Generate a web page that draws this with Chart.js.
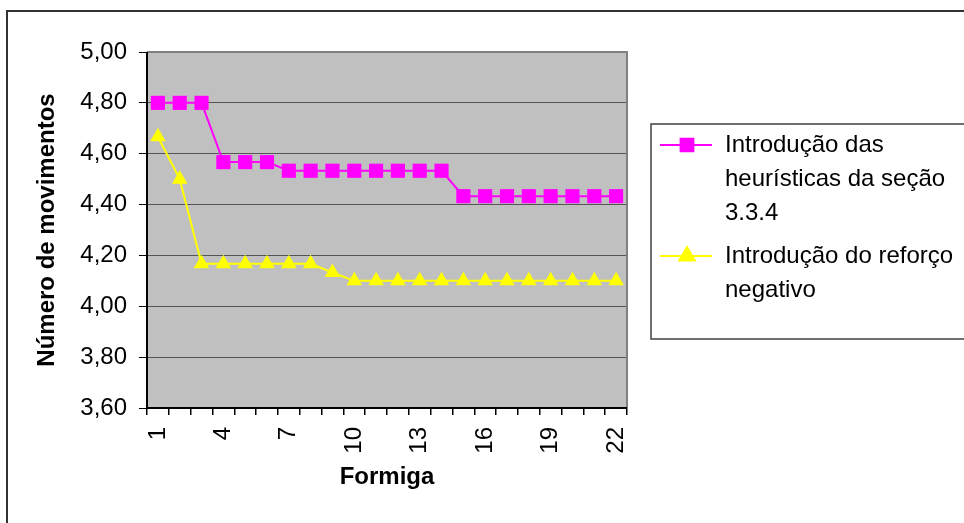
<!DOCTYPE html>
<html lang="pt">
<head>
<meta charset="utf-8">
<title>Número de movimentos por formiga</title>
<script src="https://cdn.jsdelivr.net/npm/chart.js@4/dist/chart.umd.min.js"></script>
<style>
  html, body { margin: 0; padding: 0; background: #fff; }
  #wrap { width: 964px; height: 523px; }
</style>
</head>
<body>
<div id="wrap"><canvas id="movChart" width="964" height="523"></canvas></div>
<script>
// formigas 1..22
const formigas = ['1', '2', '3', '4', '5', '6', '7', '8', '9', '10', '11',
  '12', '13', '14', '15', '16', '17', '18', '19', '20', '21', '22'];

const heuristicas = [4.80, 4.80, 4.80, 4.567, 4.567, 4.567, 4.533, 4.533, 4.533, 4.533, 4.533,
  4.533, 4.533, 4.533, 4.433, 4.433, 4.433, 4.433, 4.433, 4.433, 4.433, 4.433];

const reforcoNegativo = [4.667, 4.50, 4.167, 4.167, 4.167, 4.167, 4.167, 4.167, 4.133, 4.10, 4.10,
  4.10, 4.10, 4.10, 4.10, 4.10, 4.10, 4.10, 4.10, 4.10, 4.10, 4.10];

const yMin = 3.6, yMax = 5.0, yStep = 0.2;

const serieNomes = [
  ['Introdução das', 'heurísticas da seção', '3.3.4'],
  ['Introdução do reforço', 'negativo']
];

const FONTE = '"Liberation Sans", Arial, sans-serif';
Chart.defaults.font.family = FONTE;
Chart.defaults.font.size = 25;
Chart.defaults.color = '#000';

// fundo cinza da área do gráfico + moldura externa + legenda em caixa
const molduraPlugin = {
  id: 'moldura',
  beforeDraw(chart) {
    const { ctx, chartArea: a } = chart;
    ctx.save();
    ctx.fillStyle = '#fff';
    ctx.fillRect(0, 0, chart.width, chart.height);
    ctx.fillStyle = '#C0C0C0';
    ctx.fillRect(a.left, a.top, a.right - a.left, a.bottom - a.top);
    ctx.restore();
  },
  afterDatasetsDraw(chart) {
    const { ctx, chartArea: a } = chart;
    ctx.save();
    // borda cinza da área de plotagem
    ctx.strokeStyle = '#808080';
    ctx.lineWidth = 2;
    ctx.beginPath();
    ctx.moveTo(a.left, a.top);
    ctx.lineTo(a.right, a.top);
    ctx.lineTo(a.right, a.bottom);
    ctx.stroke();
    // eixos pretos
    ctx.strokeStyle = '#000';
    ctx.lineWidth = 2;
    ctx.beginPath();
    ctx.moveTo(a.left, a.top);
    ctx.lineTo(a.left, a.bottom);
    ctx.lineTo(a.right, a.bottom);
    ctx.stroke();
    ctx.restore();
  },
  afterDraw(chart) {
    const { ctx } = chart;
    ctx.save();
    // moldura externa do gráfico
    ctx.strokeStyle = '#333';
    ctx.lineWidth = 2;
    ctx.strokeRect(7, 11, 1000, 600);

    // caixa da legenda
    ctx.strokeStyle = '#404040';
    ctx.lineWidth = 1.5;
    ctx.strokeRect(651, 124, 400, 215);

    ctx.font = '24px ' + FONTE;
    ctx.textBaseline = 'middle';
    ctx.fillStyle = '#000';
    const entradas = [
      { y: 145, cor: '#FF00FF', estilo: 'rect', r: 9, linhas: serieNomes[0] },
      { y: 256, cor: '#FFFF00', estilo: 'triangle', r: 9, linhas: serieNomes[1] }
    ];
    entradas.forEach(e => {
      ctx.strokeStyle = e.cor;
      ctx.lineWidth = 2;
      ctx.beginPath();
      ctx.moveTo(660, e.y);
      ctx.lineTo(712, e.y);
      ctx.stroke();
      ctx.fillStyle = e.cor;
      ctx.strokeStyle = e.cor;
      Chart.helpers.drawPoint(ctx, { pointStyle: e.estilo, radius: e.r, borderWidth: 1 }, 687, e.y);
      ctx.fillStyle = '#000';
      e.linhas.forEach((t, i) => ctx.fillText(t, 725, e.y + i * 34));
    });
    ctx.restore();
  }
};

new Chart(document.getElementById('movChart'), {
  type: 'line',
  data: {
    labels: formigas,
    datasets: [
      {
        label: serieNomes[0].join(' '),
        data: heuristicas,
        borderColor: '#FF00FF',
        backgroundColor: '#FF00FF',
        borderWidth: 2,
        pointStyle: 'rect',
        pointRadius: 10,
        pointBorderWidth: 0,
        tension: 0,
        fill: false
      },
      {
        label: serieNomes[1].join(' '),
        data: reforcoNegativo,
        borderColor: '#FFFF00',
        backgroundColor: '#FFFF00',
        borderWidth: 2,
        pointStyle: 'triangle',
        pointRadius: 9,
        pointBorderWidth: 0,
        tension: 0,
        fill: false
      }
    ]
  },
  options: {
    responsive: false,
    animation: false,
    events: [],
    layout: { padding: { left: 33, top: 52, right: 337, bottom: 31 } },
    plugins: {
      legend: { display: false },
      tooltip: { enabled: false }
    },
    scales: {
      x: {
        offset: true,
        afterFit(scale) { scale.height = 84; },
        grid: {
          offset: true,
          drawOnChartArea: false,
          drawTicks: true,
          tickLength: 7,
          color: '#000',
          lineWidth: 1.5
        },
        border: { display: false },
        ticks: {
          autoSkip: false,
          minRotation: 90,
          maxRotation: 90,
          padding: 12,
          font: { size: 24 },
          callback(v, i) { return i % 3 === 0 ? this.getLabelForValue(v) : ''; }
        },
        title: {
          display: true,
          text: 'Formiga',
          font: { size: 24, weight: 'bold' },
          padding: 0
        }
      },
      y: {
        min: yMin,
        max: yMax,
        afterFit(scale) { scale.width = 114; },
        grid: {
          color: '#555',
          lineWidth: 1,
          tickLength: 8,
          tickColor: '#000'
        },
        border: { display: false },
        ticks: {
          stepSize: yStep,
          padding: 12,
          font: { size: 24 },
          callback(v) { return v.toFixed(2).replace('.', ','); }
        },
        title: {
          display: true,
          text: 'Número de movimentos',
          font: { size: 24, weight: 'bold' },
          padding: 0
        }
      }
    }
  },
  plugins: [molduraPlugin]
});
</script>
</body>
</html>
